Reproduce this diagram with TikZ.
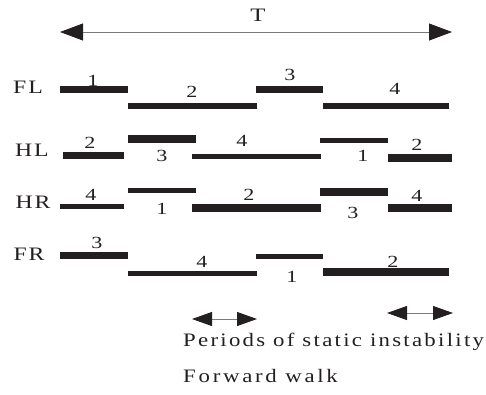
\documentclass[tikz,border=0pt]{standalone}
\usepackage{graphicx}
\usepackage{fontspec}
\setmainfont{Liberation Serif}
\newfontfamily\spaced[LetterSpace=8]{Liberation Serif}
\newfontfamily\wspaced[LetterSpace=10]{Liberation Serif}
\newfontfamily\xspaced[LetterSpace=12]{Liberation Serif}
\usetikzlibrary{arrows.meta}
\definecolor{ink}{HTML}{231F20}
\newcommand\segbar[4]{\fill[ink] (#1,{#3-#4/2}) rectangle (#2,{#3+#4/2});}
\newcommand\widetext[2]{\scalebox{#1}[1]{#2}}
\begin{document}
\begin{tikzpicture}[x=1pt,y=-1pt,
  num/.style={font=\fontsize{17}{17}\selectfont, text=ink, inner sep=0pt},
  lbl/.style={font=\spaced\fontsize{19}{19}\selectfont, text=ink, inner sep=0pt},
  captext/.style={font=\wspaced\fontsize{19}{19}\selectfont, text=ink, inner sep=0pt},
  walktext/.style={font=\xspaced\fontsize{19}{19}\selectfont, text=ink, inner sep=0pt},
  bigdbl/.style={draw=ink!60, line width=0.9pt, {Triangle[length=23pt,width=17pt,color=ink]}-{Triangle[length=23pt,width=17pt,color=ink]}},
  smalldbl/.style={draw=ink!60, line width=0.9pt, {Triangle[length=20pt,width=14pt,color=ink]}-{Triangle[length=20pt,width=14pt,color=ink]}}]
\useasboundingbox (0,0) rectangle (486,394);
% period arrow
\coordinate (tl) at (60,32);
\coordinate (tr) at (452,32);
\draw[bigdbl] (tl) -- (tr);
\node[lbl] (T) at (258,15) {\widetext{1.3}{T}};
% leg labels
\node[lbl] (FL) at (28,87) {\widetext{1.25}{FL}};
\node[lbl] (HL) at (32,150) {\widetext{1.25}{HL}};
\node[lbl] (HR) at (33,202) {\widetext{1.25}{HR}};
\node[lbl] (FR) at (29,254) {\widetext{1.25}{FR}};
% FL
\segbar{60}{128}{89.5}{7}
\segbar{128}{257}{106}{6}
\segbar{256}{323}{89.5}{7}
\segbar{323}{449}{106}{6}
\node[num] (fl1) at (93,81) {\widetext{1.3}{1}};
\node[num] (fl2) at (192,92) {\widetext{1.3}{2}};
\node[num] (fl3) at (290,75) {\widetext{1.3}{3}};
\node[num] (fl4) at (395,89) {\widetext{1.3}{4}};
% HL
\segbar{63}{124}{155.5}{7}
\segbar{128}{196}{139}{8}
\segbar{192}{321}{156.5}{5}
\segbar{320}{388}{140.5}{5}
\segbar{388}{452}{158}{8}
\node[num] (hl2a) at (90,143) {\widetext{1.3}{2}};
\node[num] (hl3) at (162,156) {\widetext{1.3}{3}};
\node[num] (hl4) at (242,141) {\widetext{1.3}{4}};
\node[num] (hl1) at (363,156) {\widetext{1.3}{1}};
\node[num] (hl2b) at (417,145) {\widetext{1.3}{2}};
% HR
\segbar{60}{124}{206.5}{5}
\segbar{128}{196}{190.5}{5}
\segbar{192}{321}{208}{8}
\segbar{320}{388}{192}{8}
\segbar{388}{452}{208}{8}
\node[num] (hr4a) at (91,195) {\widetext{1.3}{4}};
\node[num] (hr1) at (162,209) {\widetext{1.3}{1}};
\node[num] (hr2) at (249,195) {\widetext{1.3}{2}};
\node[num] (hr3) at (353,213) {\widetext{1.3}{3}};
\node[num] (hr4b) at (417,196) {\widetext{1.3}{4}};
% FR
\segbar{60}{128}{255.5}{7}
\segbar{128}{257}{273.5}{5}
\segbar{256}{323}{256.5}{5}
\segbar{323}{449}{272}{8}
\node[num] (fr3) at (97,243) {\widetext{1.3}{3}};
\node[num] (fr4) at (202,262) {\widetext{1.3}{4}};
\node[num] (fr1) at (292,277) {\widetext{1.3}{1}};
\node[num] (fr2) at (393,262) {\widetext{1.3}{2}};
% instability arrows
\coordinate (a1) at (192,319);
\coordinate (b1) at (257,319);
\coordinate (a2) at (387,313);
\coordinate (b2) at (453,313);
\draw[smalldbl] (a1) -- (b1);
\draw[smalldbl] (a2) -- (b2);
\node[captext, anchor=west] (periods) at (183,342) {\widetext{1.2}{Periods of static instability}};
\node[walktext, anchor=west] (walk) at (183,376) {\widetext{1.2}{Forward walk}};
\end{tikzpicture}
\end{document}
